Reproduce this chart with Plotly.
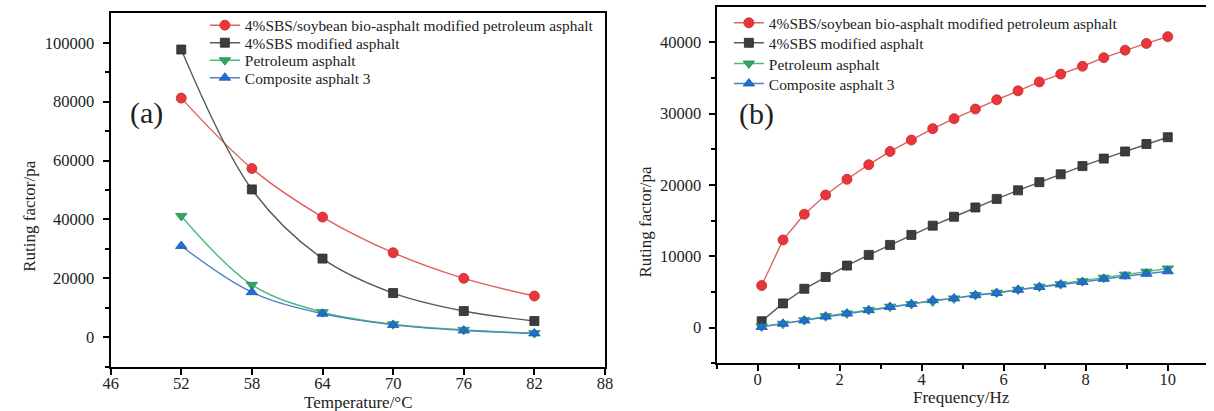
import plotly.graph_objects as go

# ---- data -----------------------------------------------------------------
names = [
    "4%SBS/soybean bio-asphalt modified petroleum asphalt",
    "4%SBS modified asphalt",
    "Petroleum asphalt",
    "Composite asphalt 3",
]

# (a) temperature sweep
temperature = [52, 58, 64, 70, 76, 82]
temp_bio_sbs = [81200, 57300, 40800, 28700, 20000, 14000]
temp_sbs = [97700, 50200, 26700, 15000, 8900, 5500]
temp_petroleum = [41200, 17800, 8500, 4400, 2500, 1400]
temp_composite3 = [31000, 15300, 8000, 4200, 2300, 1300]

# (b) frequency sweep
frequency = [0.1, 0.62, 1.14, 1.66, 2.18, 2.71, 3.23, 3.75, 4.27, 4.79,
             5.31, 5.83, 6.35, 6.87, 7.39, 7.92, 8.44, 8.96, 9.48, 10.0]
freq_bio_sbs = [5900, 12300, 15900, 18600, 20800, 22850, 24700, 26300, 27900, 29300,
                30650, 31950, 33200, 34450, 35550, 36650, 37850, 38900, 39850, 40800]
freq_sbs = [900, 3400, 5450, 7100, 8700, 10200, 11600, 13000, 14300, 15550,
            16850, 18050, 19250, 20400, 21500, 22650, 23700, 24700, 25750, 26700]
freq_petroleum = [150, 550, 1050, 1600, 2000, 2480, 2940, 3300, 3650, 4100,
                  4580, 4900, 5330, 5750, 6100, 6500, 7000, 7430, 7850, 8300]
freq_composite3 = [100, 550, 1000, 1550, 1980, 2450, 2900, 3300, 3850, 4100,
                   4550, 4850, 5300, 5700, 6050, 6400, 6850, 7200, 7550, 7900]

temp_ticks = [46, 52, 58, 64, 70, 76, 82, 88]
temp_y_ticks = [0, 20000, 40000, 60000, 80000, 100000]
freq_ticks = [0, 2, 4, 6, 8, 10]
freq_y_ticks = [0, 10000, 20000, 30000, 40000]

# ---- styling --------------------------------------------------------------
W, H = 1214, 411
SERIF = "Liberation Serif"
INK = "#222222"

styles = [
    dict(line="#e06060", fill="#e8363c", edge="#c62828", symbol="circle", size=10),
    dict(line="#5a5a5a", fill="#3d3d3d", edge="#2a2a2a", symbol="square", size=9),
    dict(line="#4dbb7c", fill="#2fa862", edge="#238a4e", symbol="triangle-down", size=10),
    dict(line="#4a84c6", fill="#1f6fd6", edge="#1757a8", symbol="triangle-up", size=10),
]

# legend rows (pixel centres) for each panel: (text start x, row y)
legend_rows_a = [(241.5, 25.7), (241.5, 43.2), (241.5, 60.7), (241.5, 78.2)]
legend_rows_b = [(772.5, 23.3), (772.5, 43.3), (772.5, 64.0), (772.5, 84.0)]


def px_x(p):
    return p / W


def px_y(p):
    return 1 - p / H


fig = go.Figure()

temp_series = [temp_bio_sbs, temp_sbs, temp_petroleum, temp_composite3]
freq_series = [freq_bio_sbs, freq_sbs, freq_petroleum, freq_composite3]

legend_layout = {}
k = 0
for panel, (xs, series, rows, xa, ya, shape) in enumerate([
        (temperature, temp_series, legend_rows_a, "x", "y", "spline"),
        (frequency, freq_series, legend_rows_b, "x2", "y2", "linear")]):
    for name, ys, st, (tx, ty) in zip(names, series, styles, rows):
        k += 1
        lname = "legend" if k == 1 else f"legend{k}"
        line = dict(color=st["line"], width=1.4, shape=shape)
        if shape == "spline":
            line["smoothing"] = 1.0
        fig.add_trace(go.Scatter(
            x=xs, y=ys, name=name, mode="lines+markers", line=line,
            marker=dict(symbol=st["symbol"], size=st["size"], color=st["fill"],
                        line=dict(color=st["edge"], width=0.8)),
            xaxis=xa, yaxis=ya, legend=lname,
        ))
        legend_layout[lname] = dict(
            x=px_x(tx - 42), y=px_y(ty), xanchor="left", yanchor="middle",
            bgcolor="rgba(0,0,0,0)", borderwidth=0, itemwidth=30,
            font=dict(family=SERIF, size=15.4, color=INK),
        )

axis_common = dict(
    showgrid=False, zeroline=False, showline=True, linecolor="black", linewidth=2,
    ticks="outside", ticklen=6, tickwidth=2, tickcolor="black", tickformat="d",
    tickfont=dict(family=SERIF, size=16.5, color=INK),
)
minor_common = dict(ticks="outside", ticklen=4, tickwidth=2, tickcolor="black")

# right panel x-axis: -1 sits on the y-axis line, axis runs off the right edge
f_scale = (1176 - 760.3) / 10.0
f_left = 718.0
f_min = -1.0
f_max = f_min + (W - f_left) / f_scale

fig.update_layout(
    width=W, height=H,
    margin=dict(l=0, r=0, t=0, b=0),
    paper_bgcolor="white", plot_bgcolor="white",
    font=dict(family=SERIF, color=INK),
    showlegend=True,
    xaxis=dict(domain=[px_x(104), px_x(605)], range=[46, 88], tickvals=temp_ticks,
               mirror=True, anchor="y", ticklabelstandoff=-6, **axis_common),
    yaxis=dict(domain=[px_y(366.7), px_y(13.3)], range=[-10000, 110000],
               tickvals=temp_y_ticks, mirror=True, anchor="x", ticklabelstandoff=5,
               minor=dict(tickvals=[-10000, 10000, 30000, 50000, 70000, 90000], **minor_common),
               **axis_common),
    xaxis2=dict(domain=[px_x(f_left), 1.0], range=[f_min, f_max], tickvals=freq_ticks,
                mirror=True, anchor="y2", ticklabelstandoff=-6,
                minor=dict(tickvals=[-1, 1, 3, 5, 7, 9], **minor_common),
                **axis_common),
    yaxis2=dict(domain=[px_y(363.3), px_y(6.7)], range=[-5000, 45000],
                tickvals=freq_y_ticks, anchor="x2", ticklabelstandoff=4,
                minor=dict(tickvals=[-5000, 5000, 15000, 25000, 35000], **minor_common),
                **axis_common),
    **legend_layout,
)

annotations = [
    dict(text="(a)", x=px_x(140), y=px_y(113), font=dict(size=30)),
    dict(text="(b)", x=px_x(758), y=px_y(114), font=dict(size=30)),
    dict(text="Temperature/°C", x=px_x(355), y=px_y(402), font=dict(size=17)),
    dict(text="Frequency/Hz", x=px_x(966), y=px_y(397), font=dict(size=17)),
    dict(text="Ruting factor/pa", x=px_x(21), y=px_y(216), font=dict(size=17), textangle=-90),
    dict(text="Ruting factor/pa", x=px_x(646), y=px_y(222), font=dict(size=17), textangle=-90),
]
for a in annotations:
    a["font"].update(family=SERIF, color=INK)
    fig.add_annotation(xref="paper", yref="paper", showarrow=False,
                       xanchor="center", yanchor="middle", **a)

fig.write_html("out.html")
